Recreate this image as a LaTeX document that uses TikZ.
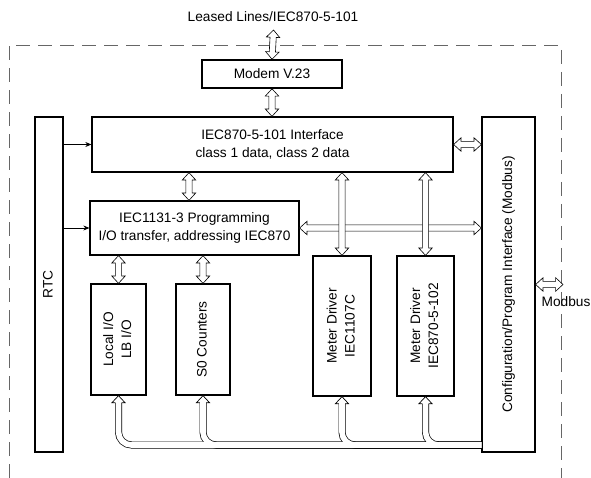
\documentclass[tikz,border=0pt]{standalone}
\usepackage{fontspec}
\setmainfont{Liberation Sans}
\usepackage{graphicx}
\usetikzlibrary{arrows.meta,calc,shapes.arrows}

\newcommand{\vtext}[1]{\rotatebox{90}{\begin{tabular}{@{}c@{}}#1\end{tabular}}}

\begin{document}
\begin{tikzpicture}[
x=1pt, y=-1pt,
font=\fontsize{13.7}{18}\selectfont,
    blk/.style = {draw, line width=1.3pt, inner sep=0pt, align=center},% boxes of the unit
 darrow/.style = {double arrow, draw, fill=white, line width=0.6pt,
                  inner xsep=0pt, inner ysep=2.8pt,
                  double arrow head extend=3.6pt, double arrow tip angle=85},
    dbl/.style = {to path={let \p1=(\tikztostart), \p2=(\tikztotarget),
                  \n1={atan2(\y2-\y1,\x2-\x1)}, \n2={veclen(\x2-\x1,\y2-\y1)} in
                  node[darrow, minimum height=\n2, rotate=\n1] at ($(\p1)!0.5!(\p2)$) {}}},% hollow double arrow
    sig/.style = {-{Stealth[length=6pt,width=5pt]}, line width=0.6pt},
  frame/.style = {gray!80!black, line width=0.9pt, dash pattern=on 14pt off 8pt},
                        ]
\useasboundingbox (0,0) rectangle (591,478);
\draw[frame] (9,478) -- (9,45) -- (561,45) -- (561,478);
% boxes
\node (lease) at (273,17) {Leased Lines/IEC870-5-101};
\node[blk, line width=1.6pt, minimum width=140, minimum height=28] (modem) at (272,74) {Modem V.23};
\node[blk, minimum width=361, minimum height=55] (iface) at (272.5,144.5) {IEC870-5-101 Interface\\class 1 data, class 2 data};
\node[blk, minimum width=28, minimum height=335] (rtc) at (49,284.5) {\vtext{RTC}};
\node[blk, minimum width=209, minimum height=54] (i1131) at (194.5,228) {IEC1131-3 Programming\\I/O transfer, addressing IEC870};
\node[blk, minimum width=55, minimum height=111] (lio) at (118.5,339.5) {\vtext{Local I/O\\LB I/O}};
\node[blk, minimum width=54, minimum height=111] (s0) at (203,339.5) {\vtext{S0 Counters}};
\node[blk, minimum width=58, minimum height=140] (md1) at (342,326) {\vtext{Meter Driver\\IEC1107C}};
\node[blk, minimum width=57, minimum height=140] (md2) at (425.5,326) {\vtext{Meter Driver\\IEC870-5-102}};
\node[blk, minimum width=53, minimum height=335] (config) at (508.5,284.5) {\vtext{Configuration/Program Interface (Modbus)}};
\node[inner sep=0pt] (mbus) at (566,302) {Modbus};
\coordinate (ltop) at (273.5,30);
\coordinate (mtip) at (563,284.5);
\coordinate (bus) at (0,445);
% connectors
\draw[dbl] (ltop) to (modem.north);
\draw[dbl] (modem.south) to (modem.south |- iface.north);
\draw[dbl] (iface.east) to (config.west |- iface.east);
\draw[dbl] (i1131.east) to (config.west |- i1131.east);
\draw[dbl] ([xshift=-5.5pt]i1131.north |- iface.south) to ([xshift=-5.5pt]i1131.north);
\draw[dbl] (md1.north |- iface.south) to (md1.north);
\draw[dbl] (md2.north |- iface.south) to (md2.north);
\draw[dbl] (lio.north |- i1131.south) to (lio.north);
\draw[dbl] (s0.north |- i1131.south) to (s0.north);
\draw[dbl] (config.east) to (mtip);
\draw[sig] (rtc.east |- iface.west) -- (iface.west);
\draw[sig] (rtc.east |- i1131.west) -- (i1131.west);
% bus
\foreach \b in {lio,s0,md1,md2}
    \draw[line width=7pt, rounded corners=13pt] ([yshift=-7pt]\b.south) -- (\b.south |- bus) -- (config.west |- bus);
\foreach \b in {lio,s0,md1,md2}
    \draw[white, line width=5.6pt, rounded corners=13pt] ([yshift=-6pt]\b.south) -- (\b.south |- bus) -- (config.west |- bus);
\foreach \b in {lio,s0,md1,md2}
    \draw[fill=white, line width=0.7pt] (\b.south) ++(-3.15pt,-7pt) -- ++(-3.35pt,0) -- (\b.south) -- ++(6.5pt,-7pt) -- ++(-3.35pt,0);
\end{tikzpicture}
\end{document}
